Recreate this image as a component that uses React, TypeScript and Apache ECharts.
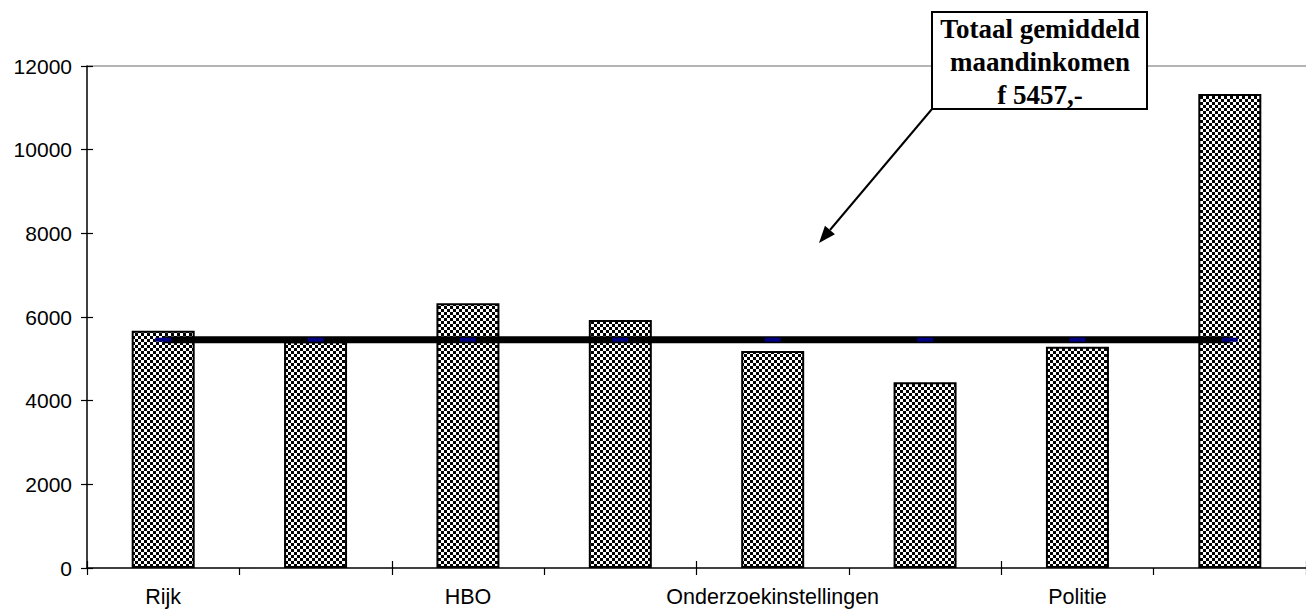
import React, { useEffect, useRef } from "react";
import * as echarts from "echarts";

// Data
const categories = ["Rijk", "", "HBO", "", "Onderzoekinstellingen", "", "Politie", ""];
const incomeValues = [5670, 5420, 6330, 5930, 5190, 4440, 5290, 11330];
const averageIncome = 5457;
const averageValues = categories.map(() => averageIncome);
const annotationLines = ["Totaal gemiddeld", "maandinkomen", "f 5457,-"];
const yMin = 0;
const yMax = 12000;
const yInterval = 2000;

function makeChecker(): HTMLCanvasElement {
  const c = document.createElement("canvas");
  const s = 3;
  c.width = s * 2;
  c.height = s * 2;
  const ctx = c.getContext("2d")!;
  ctx.fillStyle = "#ffffff";
  ctx.fillRect(0, 0, s * 2, s * 2);
  ctx.fillStyle = "#000000";
  ctx.fillRect(0, 0, s, s);
  ctx.fillRect(s, s, s, s);
  return c;
}

export default function App() {
  const ref = useRef<HTMLDivElement>(null);
  useEffect(() => {
    if (!ref.current) return;
    const chart = echarts.init(ref.current, null, { renderer: "svg" });
    const checker = makeChecker();
    const pattern: any = {
      image: checker,
      repeat: "repeat",
      imageWidth: checker.width,
      imageHeight: checker.height,
    };

    // arrow geometry
    const start = [932, 109];
    const tip = [819, 243];
    const dx = tip[0] - start[0];
    const dy = tip[1] - start[1];
    const len = Math.sqrt(dx * dx + dy * dy);
    const ux = dx / len;
    const uy = dy / len;
    const headLen = 17;
    const headHalf = 6.5;
    const bx = tip[0] - ux * headLen;
    const by = tip[1] - uy * headLen;
    const px = -uy * headHalf;
    const py = ux * headHalf;

    const font = "'Liberation Sans', Arial, sans-serif";
    const splitColors = Array.from({ length: (yMax - yMin) / yInterval + 1 }, (_, i) =>
      i === (yMax - yMin) / yInterval ? "#b4b4b4" : "rgba(0,0,0,0)"
    );

    chart.setOption({
      animation: false,
      backgroundColor: "#ffffff",
      grid: { left: 87, top: 66, width: 1227, bottom: 42, containLabel: false },
      xAxis: [
        {
          type: "category",
          data: categories,
          boundaryGap: true,
          axisLine: { show: true, lineStyle: { color: "#000", width: 1.5 } },
          axisTick: { show: true, length: 7, lineStyle: { color: "#000", width: 1.2 } },
          axisLabel: {
            interval: 0,
            margin: 18,
            color: "#000",
            fontSize: 21.5,
            fontFamily: font,
          },
          splitLine: { show: false },
        },
        {
          type: "category",
          data: categories,
          position: "bottom",
          boundaryGap: true,
          axisLine: { show: false },
          axisTick: { show: true, inside: true, length: 7, lineStyle: { color: "#000", width: 1.2 } },
          axisLabel: { show: false },
          splitLine: { show: false },
        },
      ],
      yAxis: [
        {
          type: "value",
          min: yMin,
          max: yMax,
          interval: yInterval,
          axisLine: { show: true, lineStyle: { color: "#000", width: 1.5 } },
          axisTick: { show: true, length: 6, lineStyle: { color: "#000", width: 1.2 } },
          axisLabel: {
            margin: 15,
            color: "#000",
            fontSize: 21,
            fontFamily: font,
            formatter: (v: number) => String(v),
          },
          splitLine: { show: true, lineStyle: { color: splitColors, width: 2 } },
        },
        {
          type: "value",
          min: yMin,
          max: yMax,
          interval: yInterval,
          position: "left",
          axisLine: { show: false },
          axisTick: { show: true, inside: true, length: 6, lineStyle: { color: "#000", width: 1.2 } },
          axisLabel: { show: false },
          splitLine: { show: false },
        },
      ],
      series: [
        {
          type: "bar",
          data: incomeValues,
          barWidth: 63,
          itemStyle: { color: pattern, borderColor: "#000", borderWidth: 2 },
          z: 2,
        },
        {
          type: "line",
          data: averageValues,
          lineStyle: { color: "#000", width: 7 },
          symbol: "rect",
          symbolSize: [16, 4],
          showSymbol: true,
          itemStyle: { color: "#000080", borderWidth: 0 },
          z: 3,
        },
      ],
      graphic: [
        {
          type: "line",
          shape: { x1: start[0], y1: start[1], x2: bx, y2: by },
          style: { stroke: "#000", lineWidth: 2 },
          z: 10,
        },
        {
          type: "polygon",
          shape: {
            points: [
              [tip[0], tip[1]],
              [bx + px, by + py],
              [bx - px, by - py],
            ],
          },
          style: { fill: "#000" },
          z: 10,
        },
        {
          type: "rect",
          shape: { x: 932, y: 12, width: 215, height: 97 },
          style: { fill: "#fff", stroke: "#000", lineWidth: 2 },
          z: 10,
        },
        {
          type: "text",
          x: 1040,
          y: 62,
          style: {
            text: annotationLines.join("\n"),
            fill: "#000",
            font: "bold 27px 'Liberation Serif', 'Times New Roman', serif",
            lineHeight: 33,
            align: "center",
            verticalAlign: "middle",
          },
          z: 11,
        },
      ],
    });
    return () => chart.dispose();
  }, []);
  return (
    <div
      ref={ref}
      style={{ position: "fixed", left: 0, top: 0, width: 1306, height: 610, background: "#fff" }}
    />
  );
}
